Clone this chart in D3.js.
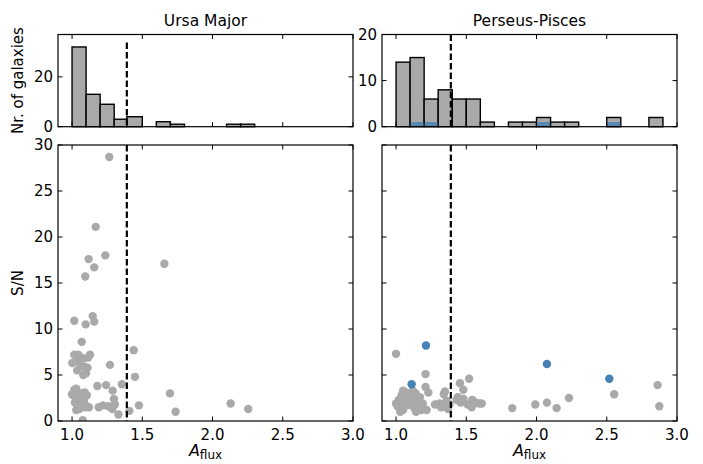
<!DOCTYPE html>
<html>
<head>
<meta charset="utf-8">
<script src="https://cdn.jsdelivr.net/npm/d3@7"></script>
<style>
  body { margin: 0; background: #fff; }
  svg { font-family: "DejaVu Sans", sans-serif; }
</style>
</head>
<body>
<div class="content"></div>
<script>
//--> Data
const threshold = 1.39;

const umBinEdges = [1.0, 1.1, 1.2, 1.3, 1.39, 1.5, 1.6, 1.7, 1.8, 1.9, 2.0, 2.1, 2.2, 2.3];
const umCounts = [32, 13, 9, 3, 4, 0, 2, 1, 0, 0, 0, 1, 1];

const ppBinEdges = [1.0, 1.1, 1.2, 1.3, 1.4, 1.5, 1.6, 1.7, 1.8, 1.9, 2.0, 2.1, 2.2, 2.3,
  2.4, 2.5, 2.6, 2.7, 2.8, 2.9];
const ppCounts = [14, 15, 6, 8, 6, 6, 1, 0, 1, 1, 2, 1, 1, 0, 0, 2, 0, 0, 2];
const ppBlueCounts = [0, 1, 1, 0, 0, 0, 0, 0, 0, 0, 1, 0, 0, 0, 0, 1, 0, 0, 0];

// Ursa Major: [A_flux, S/N]
const umPoints = [
  [1.094, 15.7], [1.097, 10.5], [1.016, 10.9], [1.069, 8.6], [1.016, 7.2], [1.08, 6.8],
  [1.002, 6.3], [1.04, 6.5], [1.037, 5.5], [1.087, 5.9], [1.099, 5.2], [1.08, 5.0],
  [1.055, 7.0], [1.03, 3.5], [1.0, 2.9], [1.09, 3.1], [1.016, 3.4], [1.009, 2.8],
  [1.04, 2.3], [1.052, 1.3], [1.076, 0.1], [1.02, 2.0], [1.06, 2.5], [1.07, 1.8],
  [1.045, 1.6], [1.03, 1.2], [1.085, 2.2], [1.065, 3.0], [1.025, 2.6], [1.095, 1.5],
  [1.06, 6.0], [1.045, 7.2],
  [1.168, 21.1], [1.118, 17.6], [1.158, 16.7], [1.147, 11.4], [1.158, 10.8], [1.128, 7.2],
  [1.11, 5.8], [1.18, 3.8], [1.19, 1.5], [1.104, 1.6], [1.12, 1.5], [1.105, 2.8], [1.115, 6.9],
  [1.265, 28.7], [1.237, 18.0], [1.27, 6.1], [1.242, 3.9], [1.289, 3.3], [1.258, 1.6],
  [1.286, 1.3], [1.298, 2.4], [1.22, 1.7],
  [1.305, 1.8], [1.33, 0.7], [1.355, 4.0],
  [1.408, 1.1], [1.439, 7.7], [1.448, 4.8], [1.476, 1.7],
  [1.657, 17.1], [1.697, 3.0], [1.737, 1.0],
  [2.129, 1.9], [2.254, 1.3]
];

// Perseus-Pisces: [A_flux, S/N], grey
const ppPoints = [
  [1.0, 7.3], [1.0, 1.9], [1.02, 2.3], [1.03, 1.5], [1.04, 2.8], [1.05, 1.2], [1.06, 2.0],
  [1.07, 3.1], [1.08, 1.7], [1.09, 2.5], [1.01, 1.6], [1.05, 3.3], [1.08, 2.2], [1.03, 1.0],
  [1.142, 1.0], [1.10, 2.9], [1.11, 1.8], [1.12, 2.4], [1.13, 1.4], [1.14, 3.0], [1.15, 2.0],
  [1.16, 1.6], [1.17, 2.6], [1.18, 1.2], [1.19, 1.9], [1.12, 3.3], [1.15, 1.1], [1.105, 2.1],
  [1.21, 5.1], [1.21, 3.7], [1.23, 3.1], [1.218, 1.2], [1.277, 1.8],
  [1.348, 3.2], [1.34, 2.9], [1.31, 1.9], [1.325, 1.55], [1.36, 2.2], [1.38, 1.8],
  [1.32, 1.5], [1.37, 1.3],
  [1.455, 4.1], [1.479, 3.4], [1.43, 2.3], [1.44, 2.6], [1.46, 2.0], [1.48, 2.4],
  [1.52, 4.6], [1.543, 2.3], [1.538, 1.5], [1.59, 1.9], [1.51, 1.8], [1.57, 2.0],
  [1.61, 1.9],
  [1.827, 1.4], [1.991, 1.8], [2.074, 2.0], [2.143, 1.4], [2.231, 2.5],
  [2.553, 2.9], [2.862, 3.9], [2.874, 1.6]
];

// Perseus-Pisces, blue
const ppBluePoints = [[1.111, 4.0], [1.213, 8.2], [2.074, 6.2], [2.518, 4.6]];

const xTicks = [1.0, 1.5, 2.0, 2.5, 3.0];
const snTicks = [0, 5, 10, 15, 20, 25, 30];
const umCountTicks = [0, 20];
const ppCountTicks = [0, 10, 20];

//--> Layout
const width = 703;
const height = 464;
const grey = "#a9a9a9";
const blue = "#4682b4";

const cols = [{ x0: 58, x1: 353 }, { x0: 382, x1: 677 }];
const histY = { y0: 34.5, y1: 126.7 };
const scatY = { y0: 145, y1: 421 };

const svg = d3
  .select(".content")
  .append("svg")
  .attr("width", width)
  .attr("height", height);

function frameTicks(g, x, y, xt, yt, box) {
  const tl = 4.5;
  xt.forEach(t => {
    g.append("line").attr("x1", x(t)).attr("x2", x(t))
      .attr("y1", box.y1).attr("y2", box.y1 - tl).attr("stroke", "#000");
    g.append("line").attr("x1", x(t)).attr("x2", x(t))
      .attr("y1", box.y0).attr("y2", box.y0 + tl).attr("stroke", "#000");
  });
  yt.forEach(t => {
    g.append("line").attr("x1", box.x0).attr("x2", box.x0 + tl)
      .attr("y1", y(t)).attr("y2", y(t)).attr("stroke", "#000");
    g.append("line").attr("x1", box.x1).attr("x2", box.x1 - tl)
      .attr("y1", y(t)).attr("y2", y(t)).attr("stroke", "#000");
  });
  g.append("rect")
    .attr("x", box.x0).attr("y", box.y0)
    .attr("width", box.x1 - box.x0).attr("height", box.y1 - box.y0)
    .attr("fill", "none").attr("stroke", "#000").attr("stroke-width", 1.2);
}

function yLabels(g, y, ticks, xpos) {
  g.selectAll(null).data(ticks).enter().append("text")
    .attr("x", xpos).attr("y", d => y(d))
    .attr("dy", "0.36em").attr("text-anchor", "end")
    .attr("font-size", 15).text(d => d);
}

function dashed(g, x, yTop, yBot) {
  g.append("line")
    .attr("x1", x(threshold)).attr("x2", x(threshold))
    .attr("y1", yTop).attr("y2", yBot)
    .attr("stroke", "#000").attr("stroke-width", 2.2)
    .attr("stroke-dasharray", "6.5,3");
}

function drawColumn(col, opts) {
  const g = svg.append("g");
  const x = d3.scaleLinear().domain([0.9, 3.0]).range([col.x0, col.x1]);

  //--> Histogram
  const yh = d3.scaleLinear().domain([0, opts.histMax]).range([histY.y1, histY.y0]);
  const bins = opts.counts.map((c, i) => ({ x0: opts.edges[i], x1: opts.edges[i + 1], c }));
  g.selectAll(null).data(bins.filter(d => d.c > 0)).enter().append("rect")
    .attr("x", d => x(d.x0)).attr("width", d => x(d.x1) - x(d.x0))
    .attr("y", d => yh(d.c)).attr("height", d => yh(0) - yh(d.c))
    .attr("fill", grey).attr("stroke", "#000").attr("stroke-width", 1.4);
  if (opts.blueCounts) {
    const bb = opts.blueCounts.map((c, i) => ({ x0: opts.edges[i], x1: opts.edges[i + 1], c }));
    g.selectAll(null).data(bb.filter(d => d.c > 0)).enter().append("rect")
      .attr("x", d => x(d.x0) + 0.7).attr("width", d => x(d.x1) - x(d.x0) - 1.4)
      .attr("y", d => yh(d.c)).attr("height", d => yh(0) - yh(d.c) - 0.7)
      .attr("fill", blue).attr("opacity", 0.85);
  }
  dashed(g, x, yh(opts.dashTop), histY.y1);
  frameTicks(g, x, yh, xTicks, opts.countTicks, { x0: col.x0, x1: col.x1, ...histY });
  yLabels(g, yh, opts.countTicks, col.x0 - 5);

  //--> Scatter
  const ys = d3.scaleLinear().domain([0, 30]).range([scatY.y1, scatY.y0]);
  const clip = "clip" + opts.id;
  svg.append("clipPath").attr("id", clip).append("rect")
    .attr("x", col.x0).attr("y", scatY.y0)
    .attr("width", col.x1 - col.x0).attr("height", scatY.y1 - scatY.y0);
  const pts = g.append("g").attr("clip-path", `url(#${clip})`);
  pts.selectAll(null).data(opts.points).enter().append("circle")
    .attr("cx", d => x(d[0])).attr("cy", d => ys(d[1])).attr("r", 4.2)
    .attr("fill", grey);
  if (opts.bluePoints) {
    pts.selectAll(null).data(opts.bluePoints).enter().append("circle")
      .attr("cx", d => x(d[0])).attr("cy", d => ys(d[1])).attr("r", 4.2)
      .attr("fill", blue);
  }
  dashed(g, x, scatY.y0, scatY.y1);
  frameTicks(g, x, ys, xTicks, snTicks, { x0: col.x0, x1: col.x1, ...scatY });
  if (opts.snLabels) yLabels(g, ys, snTicks, col.x0 - 5);

  g.selectAll(null).data(xTicks).enter().append("text")
    .attr("x", d => x(d)).attr("y", scatY.y1 + 19)
    .attr("text-anchor", "middle").attr("font-size", 15)
    .text(d => d.toFixed(1));

  const cx = (col.x0 + col.x1) / 2;
  g.append("text").attr("x", cx).attr("y", 25.5)
    .attr("text-anchor", "middle").attr("font-size", 15.5).text(opts.title);

  const xl = g.append("text").attr("x", cx).attr("y", 456)
    .attr("text-anchor", "middle").attr("font-size", 16);
  xl.append("tspan").attr("font-style", "italic").text("A");
  xl.append("tspan").attr("font-size", 12).attr("dy", 3).text("flux");
}

drawColumn(cols[0], {
  id: "um", title: "Ursa Major", edges: umBinEdges, counts: umCounts,
  histMax: 37, dashTop: 33.8, countTicks: umCountTicks,
  points: umPoints, snLabels: true
});

drawColumn(cols[1], {
  id: "pp", title: "Perseus-Pisces", edges: ppBinEdges, counts: ppCounts,
  blueCounts: ppBlueCounts, histMax: 20, dashTop: 20, countTicks: ppCountTicks,
  points: ppPoints, bluePoints: ppBluePoints, snLabels: false
});

//--> Axis titles
svg.append("text")
  .attr("transform", `translate(23, ${(histY.y0 + histY.y1) / 2}) rotate(-90)`)
  .attr("text-anchor", "middle").attr("font-size", 15).text("Nr. of galaxies");
svg.append("text")
  .attr("transform", `translate(23, ${(scatY.y0 + scatY.y1) / 2}) rotate(-90)`)
  .attr("text-anchor", "middle").attr("font-size", 15).text("S/N");
</script>
</body>
</html>
